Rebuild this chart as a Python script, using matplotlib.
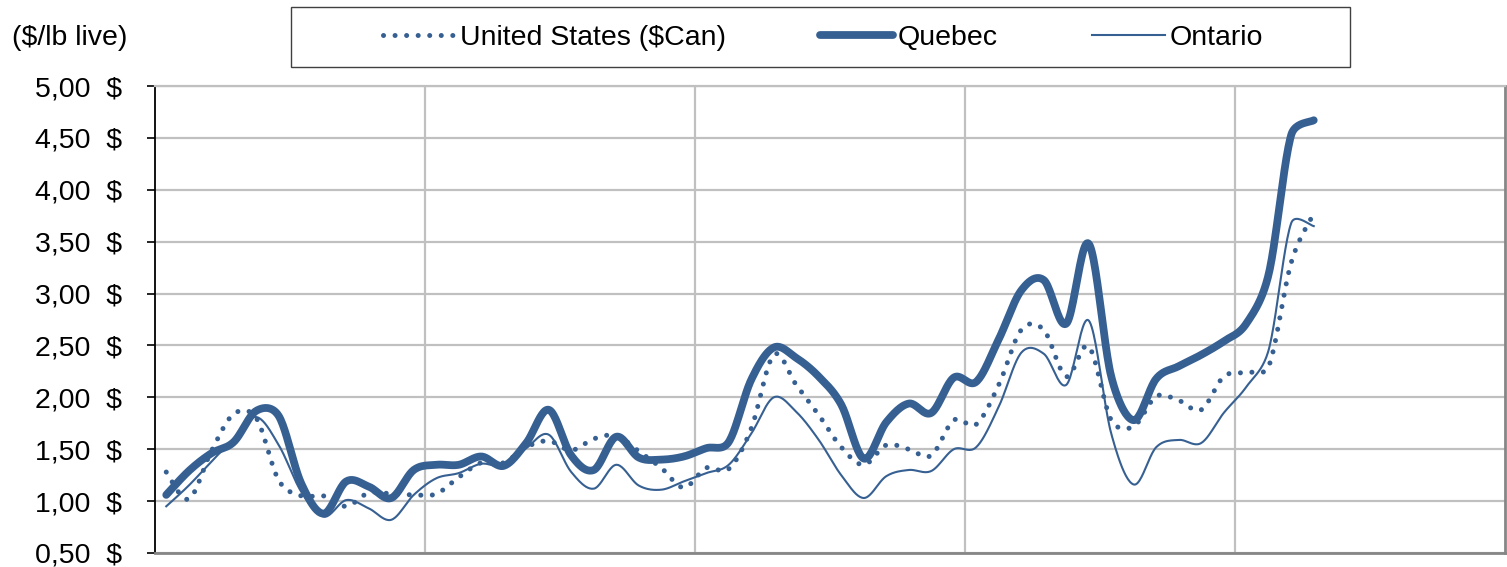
import numpy as np
import matplotlib
matplotlib.use('Agg')
import matplotlib.pyplot as plt
from matplotlib.patches import Rectangle

plt.rcParams['font.family'] = ['Liberation Sans', 'DejaVu Sans']

# monthly values, 60 category slots (5 years), data fills the first 52
n_slots = 60
us = [1.28, 1.02, 1.48, 1.84, 1.80, 1.20, 1.05, 1.05, 0.95, 1.08, 1.07, 1.06,
      1.07, 1.23, 1.37, 1.37, 1.52, 1.58, 1.49, 1.60, 1.63, 1.48, 1.32, 1.13,
      1.32, 1.31, 1.70, 2.41, 2.12, 1.83, 1.52, 1.35, 1.54, 1.50, 1.44, 1.78,
      1.74, 2.12, 2.65, 2.65, 2.20, 2.49, 1.78, 1.72, 2.01, 1.97, 1.88, 2.20,
      2.24, 2.30, 3.30, 3.77]
quebec = [1.06, 1.29, 1.46, 1.57, 1.87, 1.82, 1.17, 0.88, 1.19, 1.14, 1.03, 1.30,
          1.35, 1.35, 1.43, 1.34, 1.56, 1.88, 1.44, 1.30, 1.62, 1.42, 1.40, 1.43,
          1.51, 1.57, 2.17, 2.48, 2.38, 2.20, 1.93, 1.41, 1.76, 1.94, 1.85, 2.19,
          2.15, 2.56, 3.03, 3.13, 2.71, 3.48, 2.20, 1.78, 2.18, 2.30, 2.41, 2.54,
          2.71, 3.19, 4.53, 4.67]
ontario = [0.95, 1.15, 1.38, 1.60, 1.81, 1.54, 1.09, 0.85, 1.01, 0.93, 0.82, 1.06,
           1.22, 1.27, 1.36, 1.34, 1.51, 1.64, 1.28, 1.12, 1.35, 1.15, 1.11, 1.19,
           1.27, 1.35, 1.65, 2.00, 1.86, 1.59, 1.25, 1.03, 1.24, 1.30, 1.29, 1.50,
           1.52, 1.91, 2.43, 2.42, 2.12, 2.74, 1.65, 1.16, 1.52, 1.59, 1.56, 1.85,
           2.10, 2.46, 3.68, 3.65]
y_ticks = [0.5, 1.0, 1.5, 2.0, 2.5, 3.0, 3.5, 4.0, 4.5, 5.0]

BLUE = '#376092'
FS = 20.5


def handle(v, maxlen):
    n = np.hypot(*v)
    if n > maxlen and n > 0:
        v = v * maxlen / n
    return v


def smooth(ax, xs, ys, steps=24):
    # excel-like smoothed line: bezier handles built in screen space
    p = ax.transData.transform(np.column_stack([xs, ys]))
    n = len(p)
    out = []
    t = np.linspace(0, 1, steps)[:, None]
    for k in range(n - 1):
        p1, p2 = p[k], p[k + 1]
        p0 = p[k - 1] if k > 0 else p1
        p3 = p[k + 2] if k + 2 < n else p2
        d = np.hypot(*(p2 - p1))
        c1 = p1 + handle((p2 - p0) / 6, d / 2)
        c2 = p2 - handle((p3 - p1) / 6, d / 2)
        seg = ((1 - t) ** 3) * p1 + 3 * ((1 - t) ** 2) * t * c1 \
            + 3 * (1 - t) * t ** 2 * c2 + t ** 3 * p2
        out.append(seg if k == 0 else seg[1:])
    seg = ax.transData.inverted().transform(np.vstack(out))
    return seg[:, 0], seg[:, 1]


fig = plt.figure(figsize=(15.07, 5.67), dpi=100)
ax = fig.add_axes([155 / 1507, 14 / 567, 1350 / 1507, 467 / 567])
ax.set_xlim(0, n_slots)
ax.set_ylim(0.5, 5.0)

x = np.arange(len(quebec)) + 0.5

sx, sy = smooth(ax, x, us)
ax.plot(sx, sy, color=BLUE, lw=3.6, linestyle=(0, (0.01, 2.3)),
        dash_capstyle='round', label='United States ($Can)', zorder=3)
sx, sy = smooth(ax, x, quebec)
ax.plot(sx, sy, color=BLUE, lw=5.6, solid_capstyle='round',
        label='Quebec', zorder=2)
sx, sy = smooth(ax, x, ontario)
ax.plot(sx, sy, color=BLUE, lw=1.5, label='Ontario', zorder=4)

ax.set_xticks([12, 24, 36, 48])
ax.set_xticklabels([])
ax.tick_params(axis='x', length=0)
ax.set_yticks(y_ticks)
ax.set_yticklabels(['{:.2f}  $'.format(v).replace('.', ',') for v in y_ticks],
                   fontsize=FS)
ax.tick_params(axis='y', direction='out', length=6, width=1.2,
               color='black', pad=18)
ax.grid(True, color='#c0c0c0', lw=1.6)
ax.set_axisbelow(True)

ax.spines['left'].set_color('black')
ax.spines['left'].set_linewidth(1.3)
ax.spines['bottom'].set_color('#868686')
ax.spines['bottom'].set_linewidth(2.0)
ax.spines['right'].set_color('#868686')
ax.spines['right'].set_linewidth(2.0)
ax.spines['top'].set_color('#c0c0c0')
ax.spines['top'].set_linewidth(1.6)

fig.text(12 / 1507, 1 - 38 / 567, '($/lb live)', fontsize=FS, va='center', ha='left')

fig.patches.append(Rectangle((291 / 1507, 1 - 67 / 567), 1059 / 1507, 60 / 567,
                             transform=fig.transFigure, fill=False,
                             edgecolor='#404040', lw=1.0))
fig.legend(loc='center', bbox_to_anchor=(823 / 1507, 1 - 38 / 567), ncol=3,
           frameon=False, fontsize=FS, handlelength=2.55, handletextpad=0.18,
           columnspacing=3.3)

plt.savefig('out.png', dpi=100)
